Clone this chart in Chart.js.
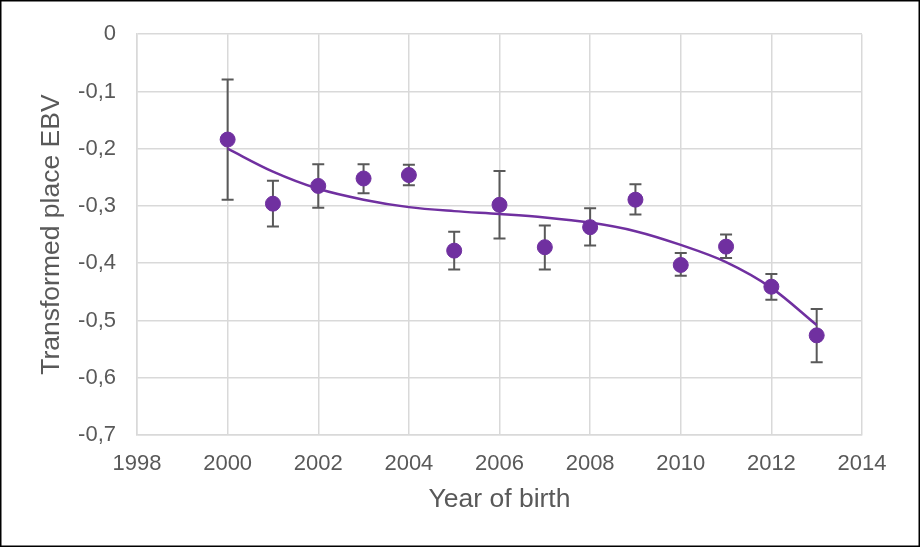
<!DOCTYPE html>
<html>
<head>
<meta charset="utf-8">
<script src="https://cdn.jsdelivr.net/npm/chart.js@4/dist/chart.umd.min.js"></script>
<style>
    html, body { margin: 0; padding: 0; background: #fff; }
    #wrap { width: 920px; height: 547px; position: relative; }
</style>
</head>
<body>
<div id="wrap"><canvas id="ebvChart"></canvas></div>
<script>
const years = [2000, 2001, 2002, 2003, 2004, 2005, 2006, 2007, 2008, 2009, 2010, 2011, 2012, 2013];
const meanEbv = [-0.184, -0.296, -0.265, -0.252, -0.246, -0.378, -0.298, -0.372, -0.337, -0.289, -0.403, -0.371, -0.441, -0.526];
const upperEbv = [-0.079, -0.256, -0.227, -0.227, -0.228, -0.345, -0.239, -0.334, -0.304, -0.262, -0.382, -0.350, -0.419, -0.480];
const lowerEbv = [-0.289, -0.336, -0.303, -0.278, -0.264, -0.411, -0.357, -0.411, -0.369, -0.315, -0.422, -0.391, -0.464, -0.573];
const trendEbv = [-0.200, -0.240, -0.270, -0.289, -0.302, -0.309, -0.314, -0.320, -0.329, -0.344, -0.368, -0.398, -0.443, -0.508];

const xTicks = [1998, 2000, 2002, 2004, 2006, 2008, 2010, 2012, 2014];
const yTicks = [0, -0.1, -0.2, -0.3, -0.4, -0.5, -0.6, -0.7];

const purple = '#7030A0';
const textGrey = '#595959';

document.addEventListener('DOMContentLoaded', function() {
    setupChart();
});

// draws the error bars under the markers
const errorBarPlugin = {
    id: 'errorBars',
    beforeDatasetsDraw(chart) {
        const ctx = chart.ctx;
        const xs = chart.scales.x;
        const ys = chart.scales.y;
        ctx.save();
        ctx.strokeStyle = textGrey;
        ctx.lineWidth = 2;
        years.forEach((yr, i) => {
            const x = xs.getPixelForValue(yr);
            const yTop = ys.getPixelForValue(upperEbv[i]);
            const yBot = ys.getPixelForValue(lowerEbv[i]);
            ctx.beginPath();
            ctx.moveTo(x, yTop);
            ctx.lineTo(x, yBot);
            ctx.moveTo(x - 6, yTop);
            ctx.lineTo(x + 6, yTop);
            ctx.moveTo(x - 6, yBot);
            ctx.lineTo(x + 6, yBot);
            ctx.stroke();
        });
        ctx.restore();
    }
};

const framePlugin = {
    id: 'frame',
    afterDraw(chart) {
        const ctx = chart.ctx;
        ctx.save();
        ctx.strokeStyle = '#000';
        ctx.lineWidth = 1.5;
        ctx.strokeRect(0.75, 0.75, chart.width - 1.5, chart.height - 1.5);
        ctx.restore();
    }
};

function formatComma(v) {
    const r = Math.round(v * 10) / 10;
    if (r === 0) return '0';
    return r.toFixed(1).replace('.', ',');
}

function setupChart() {
    const ctx = document.getElementById('ebvChart');
    if (!ctx) return;

    new Chart(ctx, {
        type: 'scatter',
        data: {
            datasets: [{
                label: 'EBV',
                data: years.map((yr, i) => ({ x: yr, y: meanEbv[i] })),
                backgroundColor: purple,
                borderColor: purple,
                pointRadius: 7.5,
                pointHoverRadius: 7.5,
                showLine: false,
                order: 0
            }, {
                label: 'Trend',
                data: years.map((yr, i) => ({ x: yr, y: trendEbv[i] })),
                borderColor: purple,
                borderWidth: 2.5,
                pointRadius: 0,
                showLine: true,
                cubicInterpolationMode: 'monotone',
                order: 1
            }]
        },
        options: {
            responsive: true,
            maintainAspectRatio: false,
            animation: false,
            layout: {
                padding: { top: 31, right: 58, left: 0, bottom: 0 }
            },
            plugins: {
                legend: { display: false },
                tooltip: { enabled: false }
            },
            scales: {
                x: {
                    type: 'linear',
                    min: 1998,
                    max: 2014,
                    afterBuildTicks: axis => { axis.ticks = xTicks.map(v => ({ value: v })); },
                    afterFit: axis => { axis.height = 112; },
                    grid: { color: '#D9D9D9', lineWidth: 1.5, drawTicks: false },
                    border: { color: '#D9D9D9', width: 1.5 },
                    ticks: {
                        padding: 16,
                        color: textGrey,
                        font: { family: 'Liberation Sans', size: 22 },
                        callback: v => String(v)
                    },
                    title: {
                        display: true,
                        text: 'Year of birth',
                        color: textGrey,
                        font: { family: 'Liberation Sans', size: 26.5 },
                        padding: { top: 0, bottom: 31 }
                    }
                },
                y: {
                    min: -0.7,
                    max: 0,
                    afterBuildTicks: axis => { axis.ticks = yTicks.map(v => ({ value: v })); },
                    afterFit: axis => { axis.width = 137; },
                    grid: { color: '#D9D9D9', lineWidth: 1.5, drawTicks: false },
                    border: { color: '#D9D9D9', width: 1.5 },
                    ticks: {
                        padding: 21,
                        color: textGrey,
                        font: { family: 'Liberation Sans', size: 22 },
                        callback: v => formatComma(v)
                    },
                    title: {
                        display: true,
                        text: 'Transformed place EBV',
                        color: textGrey,
                        font: { family: 'Liberation Sans', size: 26.5 },
                        padding: { top: 36, bottom: 0 }
                    }
                }
            }
        },
        plugins: [errorBarPlugin, framePlugin]
    });
}
</script>
</body>
</html>
